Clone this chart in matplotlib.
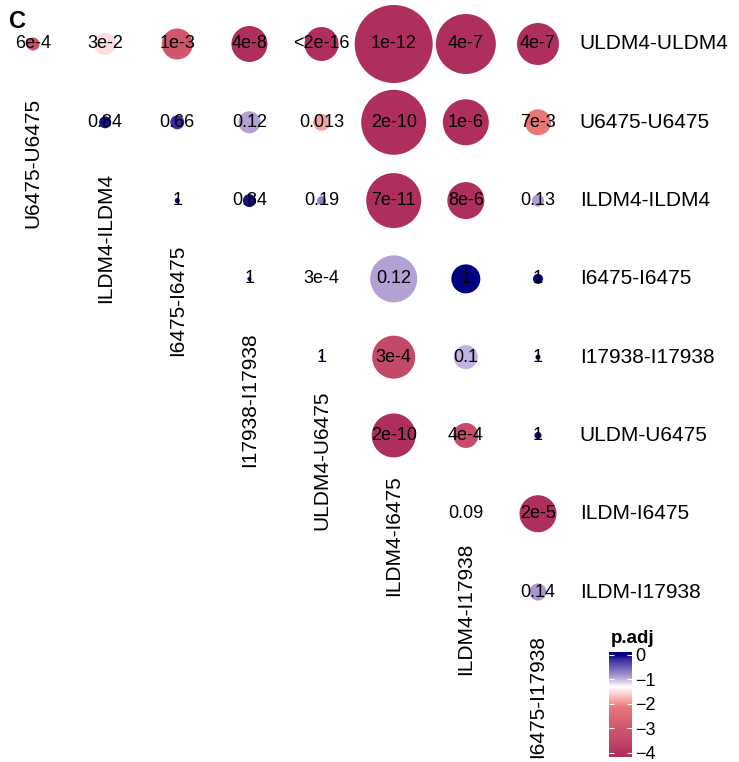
import matplotlib
matplotlib.use("Agg")
import matplotlib.pyplot as plt
from matplotlib.colors import LinearSegmentedColormap, Normalize
import numpy as np

plt.rcParams['font.family'] = ['Liberation Sans', 'DejaVu Sans']

# pair names
row_names = ['ULDM4-ULDM4', 'U6475-U6475', 'ILDM4-ILDM4', 'I6475-I6475',
             'I17938-I17938', 'ULDM-U6475', 'ILDM-I6475', 'ILDM-I17938']
col_names = ['U6475-U6475', 'ILDM4-ILDM4', 'I6475-I6475', 'I17938-I17938',
             'ULDM4-U6475', 'ILDM4-I6475', 'ILDM4-I17938', 'I6475-I17938']

# adjusted p values, row r holds columns r..7
p_text = [
    ['6e-4', '3e-2', '1e-3', '4e-8', '<2e-16', '1e-12', '4e-7', '4e-7'],
    ['0.84', '0.66', '0.12', '0.013', '2e-10', '1e-6', '7e-3'],
    ['1', '0.84', '0.19', '7e-11', '8e-6', '0.13'],
    ['1', '3e-4', '0.12', '1', '1'],
    ['1', '3e-4', '0.1', '1'],
    ['2e-10', '4e-4', '1'],
    ['0.09', '2e-5'],
    ['0.14'],
]
p_adj = [
    [6e-4, 3e-2, 1e-3, 4e-8, 2e-16, 1e-12, 4e-7, 4e-7],
    [0.84, 0.66, 0.12, 0.013, 2e-10, 1e-6, 7e-3],
    [1.0, 0.84, 0.19, 7e-11, 8e-6, 0.13],
    [1.0, 3e-4, 0.12, 1.0, 1.0],
    [1.0, 3e-4, 0.1, 1.0],
    [2e-10, 4e-4, 1.0],
    [0.09, 2e-5],
    [0.14],
]
# effect magnitude shown as dot diameter
effect = [
    [13, 22, 31, 36, 34, 78, 60, 42],
    [12, 14, 22, 17, 65, 46, 26],
    [5, 13, 9, 55, 37, 12],
    [4, 0, 47, 29, 10],
    [3, 43, 24, 5],
    [44, 25, 7],
    [0, 37],
    [17],
]

# how far below each diagonal cell the column name starts (in rows)
col_label_drop = [0.69, 0.64, 0.56, 0.68, 0.43, 0.51, 0.37, 0.55]

LOG_MIN, LOG_MAX = -4.07, 0.0


def pos(v):
    return (v - LOG_MIN) / (LOG_MAX - LOG_MIN)


cmap = LinearSegmentedColormap.from_list('padj', [
    (0.0, '#ae2f5e'),
    (pos(-3.5), '#c44a6a'),
    (pos(-3.0), '#d0566c'),
    (pos(-2.15), '#e87878'),
    (pos(-1.89), '#f4a2a2'),
    (pos(-1.5), '#fddfe1'),
    (pos(-1.3), '#ffffff'),
    (pos(-1.0), '#c4b6df'),
    (pos(-0.92), '#b5a3d5'),
    (pos(-0.5), '#6b5eb5'),
    (pos(-0.18), '#3b2a9c'),
    (1.0, '#000080'),
])
norm = Normalize(vmin=LOG_MIN, vmax=LOG_MAX, clip=True)

W, H, DPI = 739, 762, 100
fig = plt.figure(figsize=(W / DPI, H / DPI), dpi=DPI)
ax = fig.add_axes([0, 0, 1, 1])
ax.set_axis_off()

# grid geometry in pixels
x0, dx = 33, 72.14
y0, dy = 44, 78.29
ax.set_xlim(-x0 / dx, (W - x0) / dx)
ax.set_ylim((H - y0) / dy, -y0 / dy)

xs, ys, cs, ss, labels = [], [], [], [], []
for r in range(len(row_names)):
    for k, c in enumerate(range(r, len(col_names))):
        xs.append(c)
        ys.append(r)
        cs.append(np.log10(p_adj[r][k]))
        ss.append((effect[r][k] * 72 / DPI) ** 2)
        labels.append(p_text[r][k])

ax.scatter(xs, ys, s=ss, c=cs, cmap=cmap, norm=norm, edgecolors='none', zorder=2)
for x, y, t in zip(xs, ys, labels):
    ax.text(x, y, t, ha='center', va='center', fontsize=13, zorder=3)

for r, name in enumerate(row_names):
    ax.text(7.58, r, name, ha='left', va='center', fontsize=15)

for c, name in enumerate(col_names):
    ax.text(c, c + col_label_drop[c], name, rotation=90, ha='center', va='top', fontsize=15)

fig.text(9 / W, 1 - 28 / H, 'C', fontsize=17, fontweight='bold', ha='left', va='baseline')

# colour bar
cax = fig.add_axes([609 / W, 1 - 757 / H, 23 / W, 105 / H])
pad = 0.025 * (LOG_MAX - LOG_MIN) / 0.95
lo, hi = LOG_MIN - pad, LOG_MAX + pad
grad = np.linspace(lo, hi, 300)[:, None]
cax.imshow(grad, extent=[0, 1, lo, hi], origin='lower', aspect='auto', cmap=cmap, norm=norm)
cax.set_xlim(0, 1)
cax.set_ylim(lo, hi)
cax.set_xticks([])
cax.set_yticks([0, -1, -2, -3, -4])
cax.tick_params(axis='y', direction='in', color='white', length=3.3, width=0.8,
                left=True, right=True, labelleft=False, labelright=True,
                labelsize=13, pad=2)
for sp in cax.spines.values():
    sp.set_visible(False)
fig.text(611 / W, 1 - 643 / H, 'p.adj', fontsize=13.5, fontweight='bold', ha='left', va='baseline')

fig.savefig('out.png', dpi=DPI)
